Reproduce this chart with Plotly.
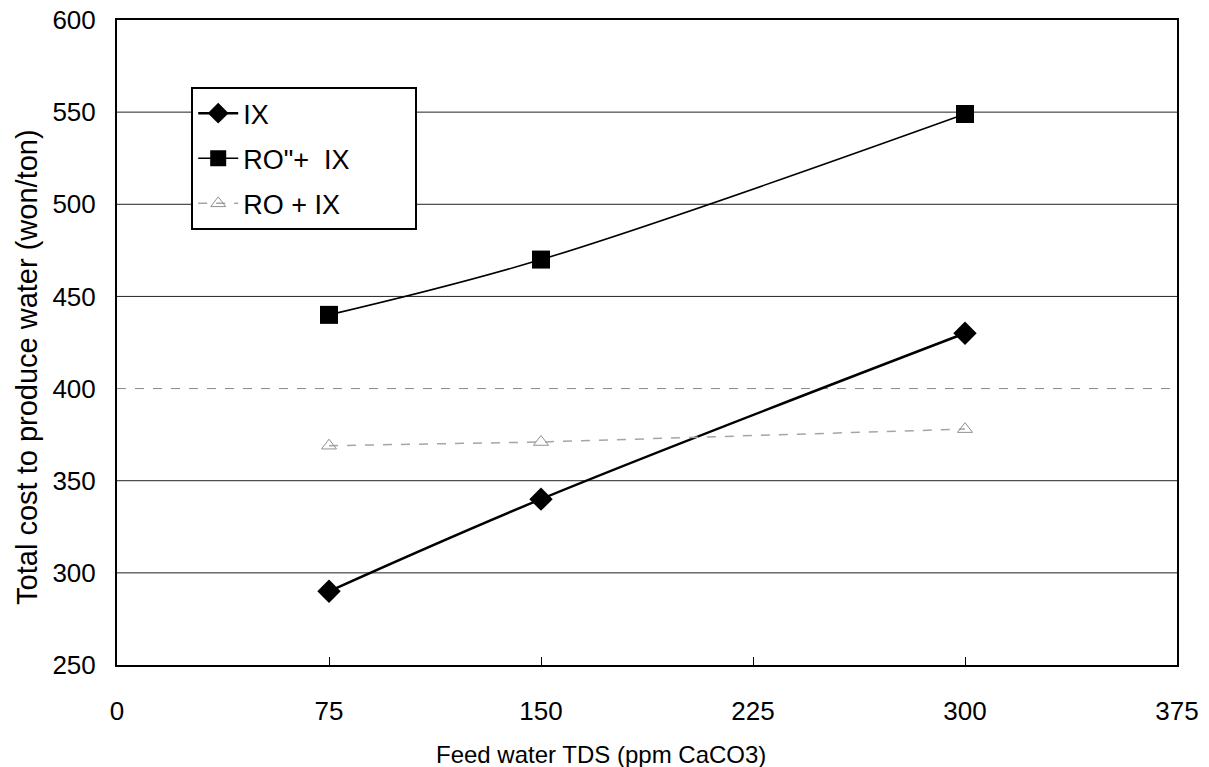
import plotly.graph_objects as go

tds = [75, 150, 300]
ix = [290, 340, 430]
ro2_ix = [440, 470, 549]
ro_ix = [369, 371, 378]

x_ticks = [0, 75, 150, 225, 300, 375]
y_ticks = [250, 300, 350, 400, 450, 500, 550, 600]
grid_solid = [300, 350, 450, 500, 550]
grid_dashed = [400]

x_title = "Feed water TDS (ppm CaCO3)"
y_title = "Total cost to produce water (won/ton)"

NB = "\u00a0"
names = ["IX", "RO\"+" + NB + NB + "IX" + NB * 8, "RO + IX"]

FONT = "Liberation Sans, Arial, sans-serif"

fig = go.Figure()
fig.add_trace(go.Scatter(
    x=tds, y=ix, name=names[0], mode="lines+markers", legendgroup="a",
    line=dict(color="black", width=2.5, shape="spline"),
    marker=dict(symbol="diamond", size=18, color="black")))
fig.add_trace(go.Scatter(
    x=tds, y=ro2_ix, name=names[1], mode="lines+markers", legendgroup="b",
    line=dict(color="black", width=1.6, shape="spline"),
    marker=dict(symbol="square", size=18, color="black")))
fig.add_trace(go.Scatter(
    x=tds, y=ro_ix, name=names[2], mode="lines+markers", legendgroup="c",
    line=dict(color="#a5a5a5", width=1.5, dash="dash"),
    marker=dict(symbol="triangle-up-open", size=13, color="#909090",
                line=dict(width=1, color="#909090"))))

shapes = []
for v in grid_solid:
    shapes.append(dict(type="line", xref="paper", x0=0, x1=1, yref="y", y0=v, y1=v,
                       line=dict(color="#222", width=1), layer="below"))
for v in grid_dashed:
    shapes.append(dict(type="line", xref="paper", x0=0, x1=1, yref="y", y0=v, y1=v,
                       line=dict(color="#888", width=1, dash="dash"), layer="below"))

annotations = [
    dict(text=x_title, xref="paper", yref="paper", x=0.457, y=-0.138,
         xanchor="center", yanchor="middle", showarrow=False, font=dict(size=24)),
    dict(text=y_title, xref="paper", yref="paper", x=-0.085, y=0.462, textangle=-90,
         xanchor="center", yanchor="middle", showarrow=False, font=dict(size=29)),
]

fig.update_layout(
    width=1209, height=767,
    margin=dict(l=117, r=32, t=20, b=102),
    paper_bgcolor="white", plot_bgcolor="white",
    font=dict(family=FONT, size=26, color="black"),
    shapes=shapes,
    annotations=annotations,
    showlegend=True,
    legend=dict(x=0.07, y=0.896, xanchor="left", yanchor="top",
                bordercolor="black", borderwidth=2, bgcolor="white",
                font=dict(size=27), tracegroupgap=7, itemwidth=40),
    xaxis=dict(range=[0, 375], tickvals=x_ticks, ticktext=[str(v) for v in x_ticks],
               showgrid=False, zeroline=False, showline=True, linecolor="black", linewidth=2,
               mirror=True, ticks="inside", ticklen=8, tickcolor="black", automargin=False,
               tickfont=dict(size=26), ticklabelstandoff=22),
    yaxis=dict(range=[250, 600], tickvals=y_ticks, ticktext=[str(v) for v in y_ticks],
               showgrid=False, zeroline=False, showline=True, linecolor="black", linewidth=2,
               mirror=True, ticks="", ticklabelstandoff=14, tickfont=dict(size=26), automargin=False),
)

fig.write_html("out.html")
